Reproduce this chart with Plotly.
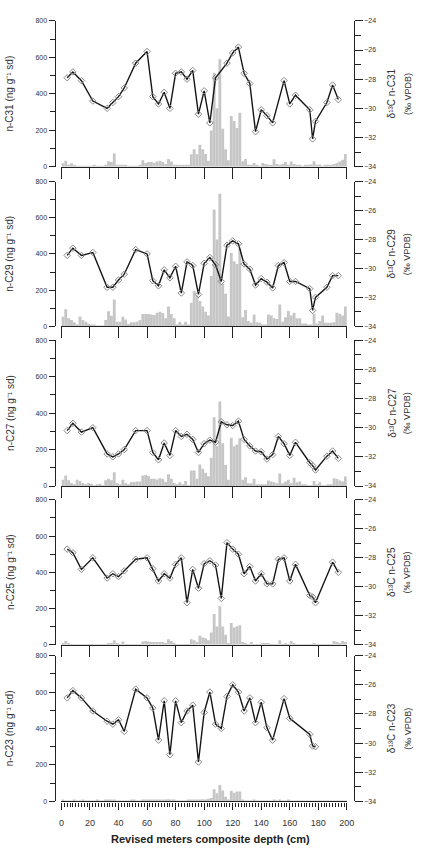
import plotly.graph_objects as go

# ---------------- data ----------------
bar_depth = [2 * k + 1 for k in range(100)]  # 2-cm bins (cm)

conc_c31 = [18, 32, 10, 18, 5, 3, 3, 3, 3, 3,
            3, 5, 3, 3, 3, 8, 30, 25, 72, 10,
            5, 8, 5, 3, 3, 3, 3, 5, 35, 20,
            25, 25, 22, 28, 32, 25, 15, 42, 28, 8,
            5, 5, 5, 5, 5, 68, 95, 68, 120, 95,
            70, 32, 198, 515, 320, 590, 208, 95, 35, 278,
            250, 212, 296, 30, 42, 5, 5, 20, 5, 3,
            20, 15, 10, 5, 40, 15, 10, 15, 25, 10,
            28, 15, 10, 5, 3, 5, 5, 12, 30, 5,
            12, 3, 5, 5, 10, 15, 20, 28, 38, 70]

conc_c29 = [53, 95, 44, 35, 22, 7, 55, 35, 26, 16,
            7, 7, 4, 4, 4, 35, 84, 58, 148, 26,
            26, 53, 38, 13, 22, 22, 26, 33, 68, 68,
            68, 66, 62, 75, 80, 73, 44, 110, 68, 44,
            7, 26, 7, 26, 7, 130, 195, 170, 140, 110,
            80, 60, 278, 645, 480, 732, 234, 180, 55, 405,
            360, 345, 430, 50, 90, 30, 20, 65, 22, 20,
            10, 5, 65, 60, 45, 40, 120, 25, 50, 85,
            60, 75, 45, 45, 15, 15, 5, 5, 70, 15,
            30, 60, 20, 20, 20, 22, 75, 70, 60, 110]

conc_c27 = [35, 58, 31, 16, 9, 35, 27, 16, 9, 16,
            13, 4, 9, 13, 4, 31, 40, 31, 76, 16,
            9, 35, 16, 9, 22, 22, 25, 25, 58, 60,
            55, 40, 40, 36, 42, 40, 22, 64, 40, 16,
            9, 20, 9, 27, 3, 85, 85, 40, 118, 95,
            71, 53, 155, 378, 220, 464, 235, 115, 35, 265,
            218, 228, 262, 35, 48, 15, 15, 40, 10, 8,
            5, 5, 30, 25, 20, 15, 68, 15, 25, 35,
            15, 45, 20, 25, 5, 10, 3, 3, 28, 10,
            20, 3, 3, 5, 5, 42, 38, 30, 25, 52]

conc_c25 = [10, 20, 8, 4, 3, 3, 3, 3, 4, 3,
            3, 3, 3, 3, 3, 4, 5, 5, 25, 5,
            3, 18, 3, 3, 3, 3, 3, 3, 18, 20,
            18, 15, 15, 15, 15, 15, 10, 30, 20, 5,
            3, 3, 3, 3, 3, 30, 25, 15, 50, 40,
            35, 25, 68, 170, 100, 212, 100, 55, 5, 120,
            95, 102, 108, 15, 5, 3, 15, 3, 3, 3,
            8, 8, 8, 3, 3, 3, 25, 3, 5, 3,
            20, 5, 3, 3, 3, 3, 3, 3, 5, 3,
            3, 3, 3, 3, 3, 20, 15, 10, 20, 15]

conc_c23 = [6, 4, 2, 3, 5, 3, 3, 9, 4, 3,
            3, 3, 5, 4, 3, 5, 6, 5, 9, 4,
            3, 3, 3, 3, 5, 6, 4, 3, 8, 8,
            8, 7, 9, 7, 7, 7, 9, 12, 8, 5,
            3, 3, 3, 4, 6, 9, 10, 8, 10, 12,
            10, 14, 18, 67, 45, 90, 60, 25, 7, 58,
            47, 55, 55, 5, 3, 3, 3, 5, 3, 3,
            3, 3, 3, 3, 5, 3, 6, 3, 3, 5,
            3, 3, 3, 3, 3, 3, 3, 3, 3, 3,
            3, 3, 3, 3, 3, 3, 3, 3, 3, 3]

iso_depth_c31 = [4, 8, 14, 22, 32, 36, 40, 44, 52, 60, 64, 68, 72, 76, 80, 84, 88, 92, 96, 100,
                 104, 108, 116, 120, 124, 128, 132, 136, 140, 144, 148, 156, 160, 164, 174, 176, 178,
                 186, 190, 194]
iso_c31 = [-27.9, -27.5, -28.1, -29.5, -30.0, -29.6, -29.2, -28.6, -26.9, -26.1, -29.2, -29.7, -28.9,
           -30.0, -27.6, -27.5, -28.0, -27.4, -30.4, -28.8, -31.0, -27.9, -26.9, -26.2, -25.8, -27.6,
           -28.3, -31.6, -30.1, -30.5, -31.0, -28.1, -29.7, -29.1, -30.1, -32.1, -30.9, -29.6, -28.4,
           -29.4]

iso_depth_c29 = [4, 8, 14, 22, 32, 36, 40, 44, 52, 60, 64, 68, 72, 76, 80, 84, 88, 92, 96, 100,
                 104, 108, 112, 116, 120, 124, 128, 132, 136, 140, 144, 148, 152, 156, 160, 164,
                 174, 176, 178, 186, 190, 194]
iso_c29 = [-29.1, -28.6, -29.1, -28.9, -31.3, -31.3, -30.8, -30.4, -28.7, -29.0, -30.85, -31.2,
           -30.1, -30.65, -29.85, -31.7, -29.55, -29.8, -31.8, -29.65, -29.25, -29.75, -30.9, -28.4,
           -28.1, -28.3, -29.7, -30.05, -31.15, -30.7, -30.95, -31.35, -29.8, -29.6, -30.9, -30.9,
           -31.4, -32.9, -32.0, -31.3, -30.5, -30.5]

iso_depth_c27 = list(iso_depth_c29)
iso_c27 = [-30.2, -29.7, -30.3, -30.0, -31.8, -32.0, -31.8, -31.5, -30.2, -30.2, -31.7, -32.2,
           -31.05, -31.9, -30.2, -30.6, -30.45, -30.8, -31.7, -31.1, -30.85, -31.0, -29.6, -29.8,
           -29.85, -29.55, -30.8, -31.25, -31.6, -31.65, -32.15, -31.85, -30.6, -31.1, -31.9,
           -31.0, -32.4, -32.6, -32.9, -31.95, -31.6, -32.1]

iso_depth_c25 = [4, 8, 14, 22, 32, 36, 40, 44, 52, 60, 64, 68, 72, 76, 80, 84, 88, 92, 96, 100,
                 104, 108, 112, 116, 120, 124, 128, 132, 136, 140, 144, 148, 152, 156, 160, 164,
                 174, 176, 178, 190, 194]
iso_c25 = [-27.4, -27.65, -28.8, -28.0, -29.4, -29.1, -29.3, -28.9, -28.1, -28.0, -28.75, -29.6,
           -29.1, -29.4, -28.45, -28.0, -31.1, -28.8, -30.1, -28.4, -28.2, -28.5, -30.8, -26.95,
           -27.4, -27.75, -29.1, -28.6, -29.6, -29.1, -29.8, -29.8, -28.1, -28.0, -29.6, -28.45,
           -30.6, -30.7, -31.1, -28.3, -29.0]

iso_depth_c23 = [4, 8, 14, 22, 32, 36, 40, 44, 52, 60, 64, 68, 72, 76, 80, 84, 88, 92, 96, 100,
                 104, 108, 112, 116, 120, 124, 128, 132, 136, 140, 144, 148, 156, 160, 174, 176, 178]
iso_c23 = [-26.9, -26.4, -26.9, -27.8, -28.5, -28.7, -28.4, -29.2, -26.3, -26.9, -27.6, -29.8,
           -27.1, -30.8, -27.1, -28.6, -27.8, -27.4, -31.3, -27.9, -26.5, -28.7, -29.0, -26.8,
           -26.0, -26.5, -27.8, -26.9, -28.6, -27.2, -28.95, -29.8, -26.95, -28.3, -29.4, -30.2,
           -30.25]

compounds = ["n-C31", "n-C29", "n-C27", "n-C25", "n-C23"]
conc_series = [conc_c31, conc_c29, conc_c27, conc_c25, conc_c23]
iso_depths = [iso_depth_c31, iso_depth_c29, iso_depth_c27, iso_depth_c25, iso_depth_c23]
iso_series = [iso_c31, iso_c29, iso_c27, iso_c25, iso_c23]

x_ticks = list(range(0, 201, 20))
left_ticks = [0, 200, 400, 600, 800]
right_ticks = [-34, -32, -30, -28, -26, -24]

# ---------------- layout geometry (pixels) ----------------
W, H = 425, 853
panels_px = [(17, 164), (179, 325), (339, 486), (500, 646), (657, 804)]
x_left_px, x_right_px = 60, 353
yaxis_left_px, yaxis_right_px = 53, 360

AX = "#222222"
TXT = "#333333"
FONT = "Liberation Sans"

fig = go.Figure()
layout = dict(
    width=W, height=H, margin=dict(l=0, r=0, t=0, b=0),
    paper_bgcolor="white", plot_bgcolor="white",
    showlegend=False, bargap=0.1,
    font=dict(family=FONT, color=TXT),
)
annotations = []

for i in range(5):
    top, bot = panels_px[i]
    dom = [(H - bot) / H, (H - top) / H]
    xn = "" if i == 0 else str(i + 1)
    yl = "" if i == 0 else str(2 * i + 1)
    yr = str(2 * i + 2)

    fig.add_trace(go.Bar(
        x=bar_depth, y=conc_series[i], width=2,
        marker=dict(color="#c6c6c6", line=dict(width=0)),
        xaxis="x" + xn, yaxis="y" + yl,
    ))
    fig.add_trace(go.Scatter(
        x=iso_depths[i], y=iso_series[i], mode="lines+markers",
        line=dict(color="#151515", width=1.4),
        marker=dict(symbol="diamond-open", size=5, color="#888888",
                    line=dict(width=1, color="#888888")),
        xaxis="x" + xn, yaxis="y" + yr, cliponaxis=False,
    ))

    last = (i == 4)
    xa = dict(
        domain=[x_left_px / W, x_right_px / W], range=[0, 200],
        anchor="y" + yl, showline=True, linecolor=AX, linewidth=1.2,
        showgrid=False, zeroline=False, ticks="outside",
        tickvals=x_ticks, tickcolor=AX, tickwidth=1.2,
        ticklen=7 if last else 11, showticklabels=last,
        tickfont=dict(size=9, color=TXT, family=FONT),
    )
    if last:
        xa["minor"] = dict(ticks="outside", dtick=2, tick0=0, ticklen=4,
                           tickcolor=AX, tickwidth=0.8)
        xa["ticklabelstandoff"] = 6
    layout["xaxis" + xn] = xa

    layout["yaxis" + yl] = dict(
        domain=dom, range=[0, 800], anchor="free", position=yaxis_left_px / W,
        side="left", showline=True, linecolor=AX, linewidth=1.2,
        showgrid=False, zeroline=False, ticks="outside", tickvals=left_ticks,
        ticklen=6, tickcolor=AX, tickwidth=1.2,
        minor=dict(ticks="outside", dtick=100, tick0=0, ticklen=5, tickcolor=AX, tickwidth=1.2),
        tickfont=dict(size=7, color=TXT, family=FONT),
    )
    layout["yaxis" + yr] = dict(
        range=[-34, -24], overlaying="y" + yl, anchor="free",
        position=yaxis_right_px / W, side="right", showline=True,
        linecolor=AX, linewidth=1.2, showgrid=False, zeroline=False,
        ticks="outside", tickvals=right_ticks, ticklen=8, tickcolor=AX, tickwidth=1.2,
        minor=dict(ticks="outside", dtick=1, tick0=-34, ticklen=6, tickcolor=AX, tickwidth=1.2),
        tickfont=dict(size=7, color=TXT, family=FONT),
    )

    yc = (H - (top + bot) / 2) / H
    annotations.append(dict(
        text=compounds[i] + " (ng g\u207b\u00b9 sd)", x=7 / W, y=yc,
        xref="paper", yref="paper", textangle=-90, showarrow=False,
        xanchor="center", yanchor="middle",
        font=dict(size=10, color=TXT, family=FONT)))
    annotations.append(dict(
        text="\u03b4\u00b9\u00b3C " + compounds[i], x=399 / W, y=yc,
        xref="paper", yref="paper", textangle=-90, showarrow=False,
        xanchor="center", yanchor="middle",
        font=dict(size=10, color=TXT, family=FONT)))
    annotations.append(dict(
        text="(\u2030 VPDB)", x=415 / W, y=yc,
        xref="paper", yref="paper", textangle=-90, showarrow=False,
        xanchor="center", yanchor="middle",
        font=dict(size=9, color=TXT, family=FONT)))

annotations.append(dict(
    text="<b>Revised meters composite depth (cm)</b>", x=213 / W, y=(H - 842) / H,
    xref="paper", yref="paper", showarrow=False, xanchor="center", yanchor="middle",
    font=dict(size=11, color="#222222", family=FONT)))

layout["annotations"] = annotations
fig.update_layout(**layout)
fig.write_html("out.html")
